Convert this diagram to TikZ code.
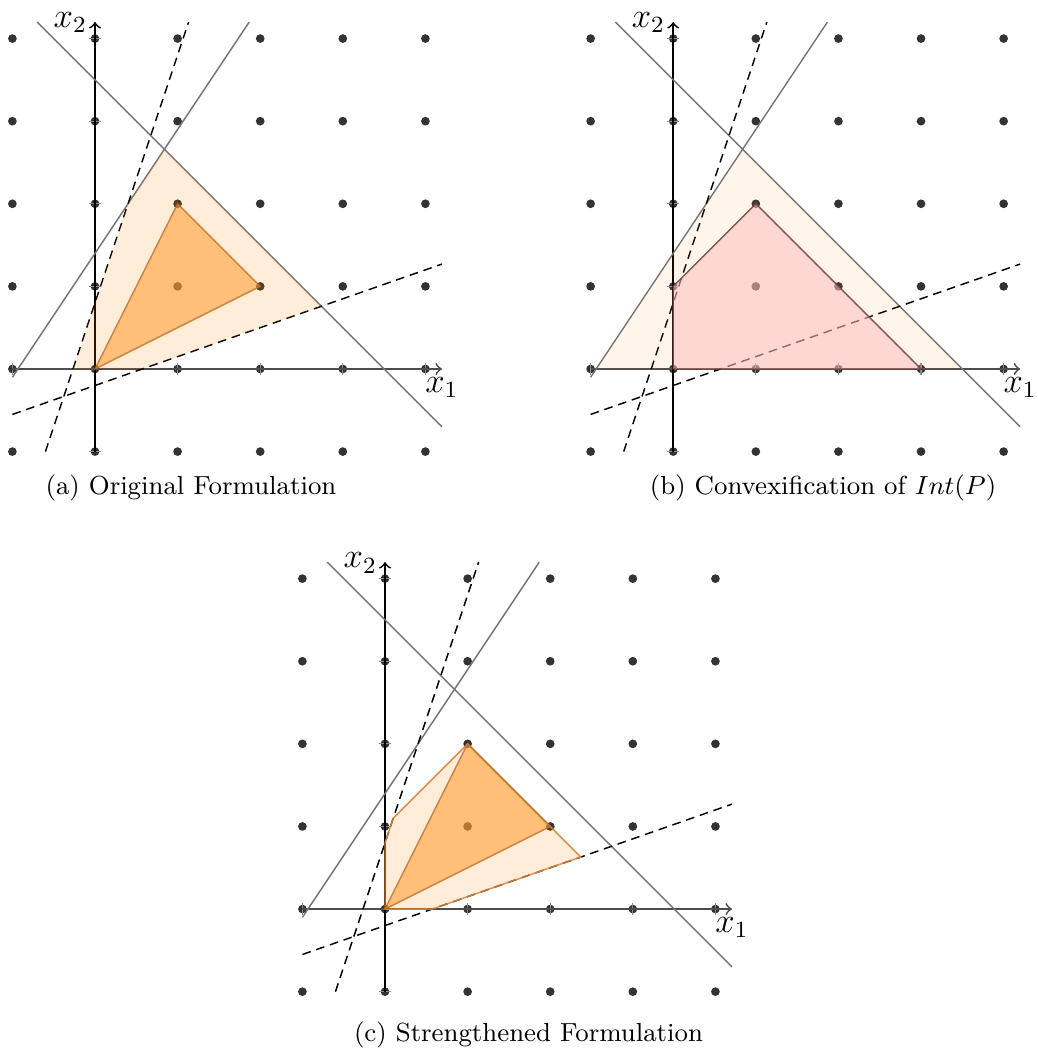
\documentclass[tikz,border=0pt]{standalone}
\usepackage{xcolor}
\definecolor{dotc}{RGB}{51,51,51}
\definecolor{lightor}{RGB}{255,128,0}
\definecolor{darkor}{RGB}{255,160,50}
\definecolor{daredge}{RGB}{190,110,40}
\definecolor{litedge}{RGB}{215,135,60}
\definecolor{pinkf}{RGB}{255,190,190}
\definecolor{pinkedge}{RGB}{110,72,72}
\newcommand{\latticepanel}[1]{%
  \foreach \i in {-1,...,4}{\foreach \j in {-1,...,4}{\fill[dotc] (\i,\j) circle (1.5pt);}}
  \foreach \i in {-1,...,4}{\draw[tickmark] (\i,-2pt) -- (\i,2pt); \draw[tickmark] (-2pt,\i) -- (2pt,\i);}
  \draw[axisline, draw=black!70] (-1,0) -- (4.2,0);
  \draw[axisline] (0,-1) -- (0,4.2);
  \node[axlabel] (#1xone) at (4.2,-0.22) {$x_1$};
  \node[axlabel] (#1xtwo) at (-0.3,4.19) {$x_2$};
  \draw[bound] (-0.7,4.2) -- (4.2,-0.7);
  \draw[bound] (-1,-0.1) -- (1.8667,4.2);
  \draw[cutline] (-0.6,-1) -- (1.1333,4.2);
  \draw[cutline] (-1,-0.55) -- (4.2,1.27);
}
\begin{document}
\begin{tikzpicture}[x=1cm,y=1cm,
  tickmark/.style={draw=black!45, line width=0.4pt},
  axisline/.style={draw=black, line width=0.6pt, ->},
  axlabel/.style={inner sep=0pt, font=\fontsize{11.5}{13}\selectfont},
  bound/.style={draw=black!55, line width=0.5pt},
  cutline/.style={draw=black, densely dashed, line width=0.5pt},
  lightreg/.style={fill=lightor, fill opacity=0.15},
  darkreg/.style={fill=darkor, fill opacity=0.58, draw=daredge, draw opacity=0.8, line width=0.5pt},
  palereg/.style={fill=lightor, fill opacity=0.08},
  pinkreg/.style={fill=pinkf, fill opacity=0.55, draw=pinkedge, draw opacity=0.9, line width=0.5pt},
  caption/.style={font=\fontsize{9}{11}\selectfont, inner sep=0pt}]
\useasboundingbox (-1.150,-8.329) rectangle (11.404,4.467);

% (a)
\begin{scope}
  \latticepanel{a}
  \path[lightreg] (-0.2667,0) -- (0.4,2) -- (0.84,2.66) -- (2.741,0.759) -- (0.5714,0) -- cycle;
  \path[darkreg] (0,0) -- (1,2) -- (2,1) -- cycle;
  \node[caption] (capa) at (1.162,-1.441) {(a) Original Formulation};
\end{scope}

% (b)
\begin{scope}[shift={(7,0)}]
  \latticepanel{b}
  \path[palereg] (-0.9333,0) -- (0.84,2.66) -- (3.5,0) -- cycle;
  \path[pinkreg] (0,0) -- (0,1) -- (1,2) -- (3,0) -- cycle;
  \node[caption] (capb) at (1.814,-1.441) {(b) Convexification of $Int(P)$};
\end{scope}

% (c)
\begin{scope}[shift={(3.511,-6.538)}]
  \latticepanel{c}
  \path[lightreg, draw=litedge, draw opacity=0.9, line width=0.5pt] (0,0) -- (0,0.8) -- (0.1,1.1) -- (1,2) -- (2.370,0.630) -- (0.5714,0) -- cycle;
  \path[darkreg] (0,0) -- (1,2) -- (2,1) -- cycle;
  \node[caption] (capc) at (1.737,-1.525) {(c) Strengthened Formulation};
\end{scope}
\end{tikzpicture}
\end{document}
